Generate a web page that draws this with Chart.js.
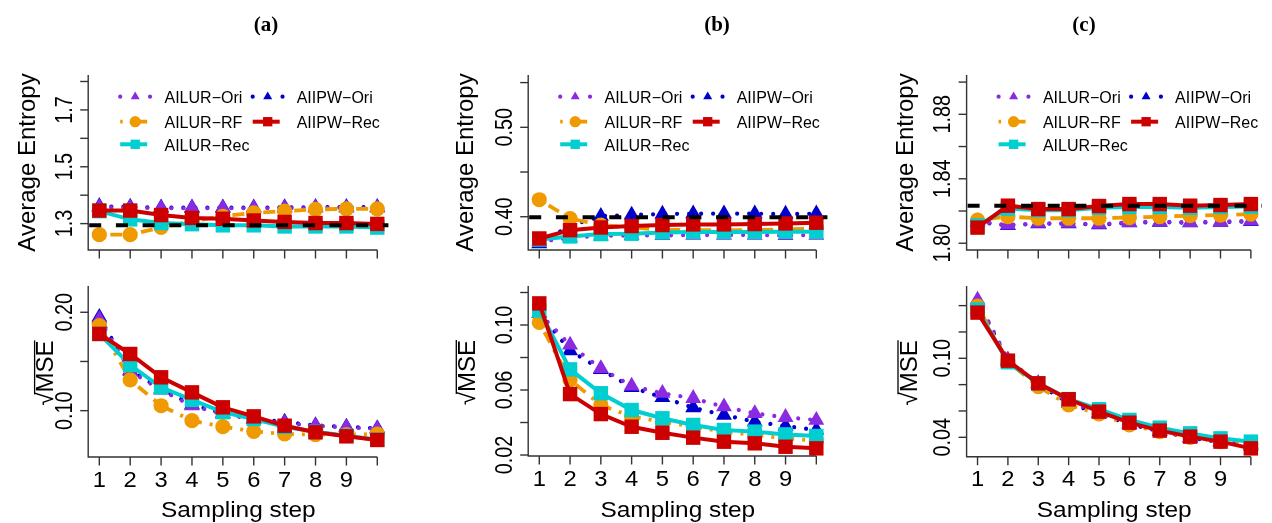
<!DOCTYPE html>
<html><head><meta charset="utf-8">
<script src="https://cdn.jsdelivr.net/npm/chart.js@4"></script>
<style>
html,body{margin:0;padding:0;background:#fff;width:1272px;height:523px;overflow:hidden}
canvas{position:absolute;left:0;top:0}
</style></head><body>
<script>
// ---------------- DATA ----------------
const steps = [1,2,3,4,5,6,7,8,9,10];
const xTickLabels = ['1','2','3','4','5','6','7','8','9',''];
const seriesNames = ['AILUR−Ori','AILUR−RF','AILUR−Rec','AIIPW−Ori','AIIPW−Rec'];
const panelTitles = ['(a)','(b)','(c)'];
const yTitleTop = 'Average Entropy';
const xTitle = 'Sampling step';

// (a) Average entropy
const aEnt_AILUR_Ori = [1.358,1.356,1.354,1.354,1.354,1.354,1.354,1.355,1.355,1.355];
const aEnt_AIIPW_Ori = [1.361,1.359,1.356,1.356,1.356,1.356,1.357,1.358,1.358,1.358];
const aEnt_AILUR_RF  = [1.261,1.261,1.287,1.308,1.326,1.338,1.344,1.350,1.352,1.352];
const aEnt_AILUR_Rec = [1.344,1.315,1.302,1.298,1.294,1.294,1.290,1.290,1.290,1.286];
const aEnt_AIIPW_Rec = [1.346,1.346,1.330,1.320,1.317,1.311,1.306,1.302,1.302,1.299];
const aEnt_ref = 1.294;
const aEnt_ticks = [1.3,1.4,1.5,1.6,1.7,1.8];
const aEnt_labels = ['1.3','','1.5','','1.7',''];
// (a) sqrt MSE
const aMse_AILUR_Ori = [0.193,0.140,0.121,0.105,0.0966,0.091,0.0875,0.0845,0.083,0.0815];
const aMse_AIIPW_Ori = [0.195,0.141,0.122,0.106,0.0975,0.092,0.0885,0.085,0.0835,0.082];
const aMse_AILUR_RF  = [0.1864,0.1312,0.105,0.0898,0.0837,0.079,0.0763,0.0756,0.0756,0.0763];
const aMse_AILUR_Rec = [0.178,0.1464,0.1237,0.111,0.0985,0.0915,0.0835,0.0785,0.0745,0.0705];
const aMse_AIIPW_Rec = [0.178,0.1576,0.1339,0.1186,0.1034,0.0942,0.0847,0.078,0.0739,0.0702];
const aMse_ticks = [0.10,0.15,0.20];
const aMse_labels = ['0.10','','0.20'];

// (b) Average entropy
const bEnt_AILUR_Ori = [0.372,0.3765,0.3787,0.379,0.379,0.3795,0.3795,0.3795,0.379,0.3795];
const bEnt_AIIPW_Ori = [0.370,0.390,0.4007,0.402,0.403,0.4034,0.4034,0.4034,0.403,0.4034];
const bEnt_AILUR_RF  = [0.419,0.398,0.3907,0.388,0.3855,0.385,0.385,0.385,0.3858,0.387];
const bEnt_AILUR_Rec = [0.3745,0.378,0.3806,0.381,0.3825,0.383,0.383,0.383,0.3832,0.3832];
const bEnt_AIIPW_Rec = [0.3757,0.385,0.388,0.3896,0.3907,0.3914,0.3914,0.3918,0.3925,0.3933];
const bEnt_ref = 0.3995;
const bEnt_ticks = [0.40,0.45,0.50,0.55];
const bEnt_labels = ['0.40','','0.50',''];
// (b) sqrt MSE
const bMse_AILUR_Ori = [0.1072,0.0877,0.0733,0.0625,0.058,0.0549,0.0497,0.0456,0.0432,0.0415];
const bMse_AIIPW_Ori = [0.1075,0.0842,0.0727,0.0616,0.0555,0.0491,0.0446,0.0405,0.0378,0.0354];
const bMse_AILUR_RF  = [0.1016,0.0662,0.0508,0.0436,0.0405,0.0374,0.0344,0.0323,0.0303,0.0288];
const bMse_AILUR_Rec = [0.109,0.0727,0.058,0.0477,0.0426,0.0385,0.0354,0.0344,0.0327,0.0317];
const bMse_AIIPW_Rec = [0.1133,0.0575,0.0452,0.0374,0.0337,0.0307,0.0282,0.0272,0.0251,0.0241];
const bMse_ticks = [0.02,0.04,0.06,0.08,0.10,0.12];
const bMse_labels = ['0.02','','0.06','','0.10',''];

// (c) Average entropy
const cEnt_AILUR_Ori = [1.8135,1.8113,1.8124,1.8124,1.8118,1.813,1.8134,1.813,1.8134,1.8138];
const cEnt_AIIPW_Ori = [1.8132,1.811,1.8121,1.8121,1.8115,1.8127,1.8131,1.8127,1.8131,1.8135];
const cEnt_AILUR_RF  = [1.8144,1.8165,1.8155,1.8155,1.8155,1.8159,1.8165,1.8171,1.8175,1.8181];
const cEnt_AILUR_Rec = [1.811,1.8215,1.8205,1.8205,1.822,1.8225,1.8225,1.822,1.8225,1.8228];
const cEnt_AIIPW_Rec = [1.8097,1.8233,1.8212,1.8212,1.8231,1.8243,1.8243,1.8233,1.8237,1.8243];
const cEnt_ref = 1.8233;
const cEnt_ticks = [1.80,1.82,1.84,1.86,1.88,1.90];
const cEnt_labels = ['1.80','','1.84','','1.88',''];
// (c) sqrt MSE
const cMse_AILUR_Ori = [0.1443,0.099,0.081,0.067,0.059,0.051,0.045,0.040,0.037,0.035];
const cMse_AIIPW_Ori = [0.143,0.098,0.0805,0.066,0.058,0.050,0.0445,0.0395,0.0365,0.0335];
const cMse_AILUR_RF  = [0.1397,0.0975,0.0785,0.0646,0.0577,0.0494,0.0443,0.040,0.0367,0.0349];
const cMse_AILUR_Rec = [0.137,0.097,0.081,0.069,0.0613,0.0532,0.0473,0.043,0.0392,0.0367];
const cMse_AIIPW_Rec = [0.1347,0.0982,0.081,0.0689,0.0595,0.0511,0.0451,0.0405,0.0367,0.0316];
const cMse_ticks = [0.04,0.06,0.08,0.10,0.12,0.14];
const cMse_labels = ['0.04','','','0.10','',''];

// ---------------- STYLE ----------------
const styles = {
  'AILUR−Ori': {color:'#8A2BE2', dash:[0.01,12], cap:'round', width:4.2, point:'triangle', r:9.2, lr:5.2, ldash:[0.01,14.9]},
  'AIIPW−Ori': {color:'#0000CD', dash:[0.01,12], cap:'round', width:4.2, point:'triangle', r:9.2, lr:5.2, ldash:[0.01,14.9]},
  'AILUR−RF':  {color:'#EE9A00', dash:[3,8,12,8], cap:'butt', width:3.8, point:'circle',   r:7.6, lr:5.6, ldash:[2.5,10.5,14,100]},
  'AILUR−Rec': {color:'#00CED1', dash:[],         cap:'butt', width:4,   point:'rect',     r:10.2, lr:6.6, ldash:[]},
  'AIIPW−Rec': {color:'#CD0000', dash:[],         cap:'butt', width:4,   point:'rect',     r:10.2, lr:6.6, ldash:[]}
};
const drawOrder = ['AIIPW−Rec','AILUR−Rec','AILUR−RF','AILUR−Ori','AIIPW−Ori']; // first = on top
const FONT = '"Liberation Sans", Arial, Helvetica, sans-serif';
const W = 1272, H = 523;

function vals(o, rf, rc, io, ir) {
  return {'AILUR−Ori':o,'AILUR−RF':rf,'AILUR−Rec':rc,'AIIPW−Ori':io,'AIIPW−Rec':ir};
}

const panels = [
  {row:0, col:0, values:vals(aEnt_AILUR_Ori,aEnt_AILUR_RF,aEnt_AILUR_Rec,aEnt_AIIPW_Ori,aEnt_AIIPW_Rec), ref:aEnt_ref, ticks:aEnt_ticks, labels:aEnt_labels,
   box:{left:88.2,right:388.4,top:75,bottom:250}, ymin:1.2072, ymax:1.8228, titleBase:35, titleX:266},
  {row:1, col:0, values:vals(aMse_AILUR_Ori,aMse_AILUR_RF,aMse_AILUR_Rec,aMse_AIIPW_Ori,aMse_AIIPW_Rec), ticks:aMse_ticks, labels:aMse_labels,
   box:{left:88.2,right:388.4,top:286,bottom:457}, ymin:0.0529, ymax:0.2267, titleBase:53.3},
  {row:0, col:1, values:vals(bEnt_AILUR_Ori,bEnt_AILUR_RF,bEnt_AILUR_Rec,bEnt_AIIPW_Ori,bEnt_AIIPW_Rec), ref:bEnt_ref, ticks:bEnt_ticks, labels:bEnt_labels,
   box:{left:528.2,right:827.4,top:75,bottom:250}, ymin:0.3628, ymax:0.5585, titleBase:473.3, titleX:717},
  {row:1, col:1, values:vals(bMse_AILUR_Ori,bMse_AILUR_RF,bMse_AILUR_Rec,bMse_AIIPW_Ori,bMse_AIIPW_Rec), ticks:bMse_ticks, labels:bMse_labels,
   box:{left:528.2,right:827.4,top:286,bottom:456}, ymin:0.0194, ymax:0.124, titleBase:475},
  {row:0, col:2, values:vals(cEnt_AILUR_Ori,cEnt_AILUR_RF,cEnt_AILUR_Rec,cEnt_AIIPW_Ori,cEnt_AIIPW_Rec), ref:cEnt_ref, ticks:cEnt_ticks, labels:cEnt_labels,
   box:{left:966.6,right:1266.8,top:75,bottom:250}, ymin:1.7958, ymax:1.9044, titleBase:913.3, titleX:1084},
  {row:1, col:2, values:vals(cMse_AILUR_Ori,cMse_AILUR_RF,cMse_AILUR_Rec,cMse_AIIPW_Ori,cMse_AIIPW_Rec), ticks:cMse_ticks, labels:cMse_labels,
   box:{left:966.6,right:1266.8,top:286,bottom:456.7}, ymin:0.02527, ymax:0.1549, titleBase:916.7}
];

// ---------------- HELPERS ----------------
function text(ctx, s, x, y, o) {
  ctx.save();
  ctx.translate(x, y);
  if (o.rot) ctx.rotate(o.rot);
  if (o.sx) ctx.scale(o.sx, 1);
  ctx.font = o.font;
  ctx.textAlign = o.align || 'center';
  ctx.textBaseline = o.baseline || 'alphabetic';
  ctx.fillStyle = o.color || '#000';
  ctx.fillText(s, 0, 0);
  ctx.restore();
}
function marker(ctx, style, r, x, y, color) {
  ctx.save();
  ctx.fillStyle = color;
  ctx.beginPath();
  if (style === 'circle') {
    ctx.arc(x, y, r, 0, Math.PI * 2);
  } else if (style === 'rect') {
    const s = r * Math.SQRT1_2;
    ctx.rect(x - s, y - s, 2 * s, 2 * s);
  } else {
    for (let k = 0; k < 3; k++) {
      const a = k * 2 * Math.PI / 3;
      const px = x + Math.sin(a) * r, py = y - Math.cos(a) * r;
      k ? ctx.lineTo(px, py) : ctx.moveTo(px, py);
    }
    ctx.closePath();
  }
  ctx.fill();
  ctx.restore();
}

function makeChart(p) {
  const cv = document.createElement('canvas');
  cv.width = W; cv.height = H;
  cv.style.width = W + 'px'; cv.style.height = H + 'px';
  document.body.appendChild(cv);

  const datasets = drawOrder.map(name => {
    const s = styles[name];
    return {
      label: name,
      data: steps.map((x, i) => ({x: x, y: p.values[name][i]})),
      borderColor: s.color, backgroundColor: s.color,
      borderWidth: s.width, borderDash: s.dash, borderCapStyle: s.cap,
      pointStyle: s.point, pointRadius: s.r, pointHoverRadius: s.r,
      pointBorderWidth: 0, pointBackgroundColor: s.color,
      tension: 0, fill: false, clip: false
    };
  });

  const plugin = {
    id: 'rStyle' + p.row + p.col,
    afterDatasetsDraw(chart) {
      if (p.ref === undefined) return;
      const ctx = chart.ctx, ca = chart.chartArea, ys = chart.scales.y;
      const py = ys.getPixelForValue(p.ref);
      ctx.save();
      ctx.strokeStyle = '#000'; ctx.lineWidth = 4; ctx.setLineDash([12, 14.7]);
      ctx.beginPath(); ctx.moveTo(ca.left + 1, py); ctx.lineTo(ca.right, py); ctx.stroke();
      ctx.restore();
    },
    afterDraw(chart) {
      const ctx = chart.ctx, ca = chart.chartArea, xs = chart.scales.x, ys = chart.scales.y;
      ctx.save();
      ctx.strokeStyle = '#333'; ctx.lineWidth = 1.4; ctx.setLineDash([]);
      // L-shaped frame
      ctx.beginPath();
      ctx.moveTo(ca.left, ca.top); ctx.lineTo(ca.left, ca.bottom);
      ctx.lineTo(xs.getPixelForValue(steps[steps.length - 1]), ca.bottom);
      ctx.stroke();
      // y ticks + labels
      p.ticks.forEach((v, i) => {
        const py = ys.getPixelForValue(v);
        ctx.beginPath(); ctx.moveTo(ca.left - 8, py); ctx.lineTo(ca.left, py); ctx.stroke();
        if (p.labels[i]) text(ctx, p.labels[i], ca.left - 16.5, py, {font: '23px ' + FONT, rot: -Math.PI / 2, sx: 0.86});
      });
      // x ticks + labels
      steps.forEach((v, i) => {
        const px = xs.getPixelForValue(v);
        ctx.beginPath(); ctx.moveTo(px, ca.bottom); ctx.lineTo(px, ca.bottom + 8.5); ctx.stroke();
        if (p.row === 1 && xTickLabels[i]) text(ctx, xTickLabels[i], px, ca.bottom + 29.7, {font: '22px ' + FONT, sx: 1.08});
      });
      const cy = (ca.top + ca.bottom) / 2;
      if (p.row === 0) {
        text(ctx, yTitleTop, p.titleBase, cy, {font: '24px ' + FONT, rot: -Math.PI / 2});
        text(ctx, panelTitles[p.col], p.titleX, 31, {font: 'bold 21px "Liberation Serif", "Times New Roman", serif'});
        // legend
        const cols = [[0, 1, 2], [3, 4]];
        const rowsY = [21.7, 46.7, 69.3];
        const symX = [47, 179.5], txtX = [76.3, 208.5];
        cols.forEach((list, c) => {
          list.forEach((si, r) => {
            const name = seriesNames[si], s = styles[name];
            const sx = ca.left + symX[c], sy = ca.top + rowsY[r];
            ctx.save();
            ctx.strokeStyle = s.color; ctx.lineWidth = s.width; ctx.lineCap = s.cap; ctx.setLineDash(s.ldash);
            ctx.beginPath(); ctx.moveTo(sx - 15, sy); ctx.lineTo(sx + (s.dash.length ? 15 : 12), sy); ctx.stroke();
            ctx.restore();
            marker(ctx, s.point, s.lr, sx, sy, s.color);
            text(ctx, name, ca.left + txtX[c], sy + 6.2, {font: '16px ' + FONT, align: 'left'});
          });
        });
      } else {
        text(ctx, xTitle, (ca.left + ca.right) / 2, 517.3, {font: '22px ' + FONT, sx: 1.11});
        // sqrt(MSE) title
        ctx.save();
        ctx.translate(p.titleBase, cy + 1.5);
        ctx.rotate(-Math.PI / 2);
        ctx.font = '24px ' + FONT;
        ctx.fillStyle = '#000';
        ctx.textAlign = 'left'; ctx.textBaseline = 'alphabetic';
        const wR = ctx.measureText('√').width, wM = ctx.measureText('MSE').width;
        const x0 = -(wR + wM) / 2;
        ctx.fillText('√', x0, 0);
        ctx.fillText('MSE', x0 + wR, 0);
        ctx.strokeStyle = '#000'; ctx.lineWidth = 1.3;
        ctx.beginPath(); ctx.moveTo(x0 + wR * 0.85, -18.7); ctx.lineTo(x0 + wR + wM, -18.7); ctx.stroke();
        ctx.restore();
      }
      ctx.restore();
    }
  };

  new Chart(cv, {
    type: 'line',
    data: {datasets: datasets},
    options: {
      responsive: false, animation: false, devicePixelRatio: 1, events: [],
      layout: {padding: {left: p.box.left, top: p.box.top, right: W - p.box.right, bottom: H - p.box.bottom}},
      scales: {
        x: {type: 'linear', min: 0.64, max: 10.36, display: false},
        y: {type: 'linear', min: p.ymin, max: p.ymax, display: false}
      },
      plugins: {legend: {display: false}, tooltip: {enabled: false}}
    },
    plugins: [plugin]
  });
}

panels.forEach(makeChart);
</script>
</body></html>
